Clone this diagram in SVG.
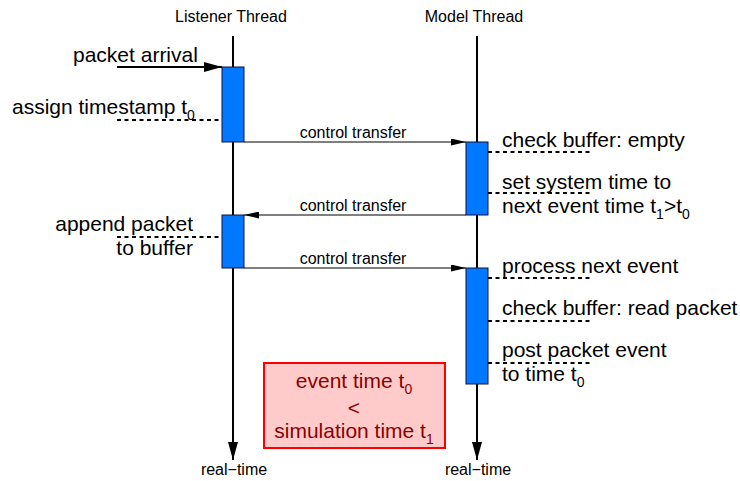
<svg xmlns="http://www.w3.org/2000/svg" width="740" height="481" viewBox="0 0 740 481">
  <defs>
    <style>
      text { font-family: "Liberation Sans", Arial, sans-serif; fill: #000; }
      .big { font-size: 21px; }
      .small { font-size: 16px; }
      .sub { font-size: 14px; }
      .life { stroke: #000; stroke-width: 2; fill: none; }
      .ctrl { stroke: #000; stroke-width: 1.2; fill: none; }
      .dash { stroke: #000; stroke-width: 1.8; stroke-dasharray: 4 3.5; fill: none; }
      .act { fill: #0078ff; stroke: #10103a; stroke-width: 1; }
      .note-box { fill: #ffcaca; stroke: #ff0000; stroke-width: 2; }
      .note { font-size: 21px; fill: #8c0000; }
    </style>
    <marker id="headBig" markerWidth="18" markerHeight="10" refX="18" refY="5" orient="auto" markerUnits="userSpaceOnUse">
      <path d="M0,0 L18,5 L0,10 Z" fill="#000"/>
    </marker>
    <marker id="headSmall" markerWidth="15" markerHeight="7" refX="15" refY="3.5" orient="auto" markerUnits="userSpaceOnUse">
      <path d="M0,0 L15,3.5 L0,7 Z" fill="#000"/>
    </marker>
  </defs>

  <!-- lifelines -->
  <g id="listener-thread">
    <text class="small" x="231" y="22" text-anchor="middle">Listener Thread</text>
    <line class="life" x1="233" y1="36" x2="233" y2="460" marker-end="url(#headBig)"/>
    <text class="small" x="234" y="475" text-anchor="middle">real−time</text>
  </g>
  <g id="model-thread">
    <text class="small" x="474" y="22" text-anchor="middle">Model Thread</text>
    <line class="life" x1="477" y1="36" x2="477" y2="460" marker-end="url(#headBig)"/>
    <text class="small" x="478" y="475" text-anchor="middle">real−time</text>
  </g>

  <!-- external packet arrival -->
  <g id="packet-arrival">
    <line class="life" x1="117" y1="67" x2="222" y2="67" marker-end="url(#headBig)"/>
    <text class="big" x="73" y="62">packet arrival</text>
  </g>

  <!-- control transfers between the threads -->
  <g id="connectors">
    <line class="ctrl" x1="244" y1="142" x2="466" y2="142" marker-end="url(#headSmall)"/>
    <text class="small" x="353" y="138" text-anchor="middle">control transfer</text>
    <line class="ctrl" x1="466" y1="215" x2="244" y2="215" marker-end="url(#headSmall)"/>
    <text class="small" x="353" y="211" text-anchor="middle">control transfer</text>
    <line class="ctrl" x1="244" y1="268" x2="466" y2="268" marker-end="url(#headSmall)"/>
    <text class="small" x="353" y="264" text-anchor="middle">control transfer</text>
  </g>

  <!-- listener activations -->
  <g id="listener-act-1">
    <rect class="act" x="222" y="67" width="22" height="75"/>
    <line class="dash" x1="117" y1="120" x2="222" y2="120"/>
    <text class="big" x="12" y="114">assign timestamp t<tspan class="sub" dy="6">0</tspan></text>
  </g>
  <g id="listener-act-2">
    <rect class="act" x="222" y="215" width="22" height="53"/>
    <line class="dash" x1="117" y1="237" x2="222" y2="237"/>
    <text class="big" x="193" y="231" text-anchor="end">append packet</text>
    <text class="big" x="193" y="255" text-anchor="end">to buffer</text>
  </g>

  <!-- model activations -->
  <g id="model-act-1">
    <rect class="act" x="466" y="142" width="22" height="73"/>
    <line class="dash" x1="488" y1="152" x2="593" y2="152"/>
    <text class="big" x="502" y="147">check buffer: empty</text>
    <line class="dash" x1="488" y1="193" x2="593" y2="193"/>
    <text class="big" x="502" y="189">set system time to</text>
    <text class="big" x="502" y="213">next event time t<tspan class="sub" dy="6">1</tspan><tspan dy="-6">&gt;t</tspan><tspan class="sub" dy="6">0</tspan></text>
  </g>
  <g id="model-act-2">
    <rect class="act" x="466" y="268" width="22" height="116"/>
    <line class="dash" x1="488" y1="278" x2="593" y2="278"/>
    <text class="big" x="502" y="273">process next event</text>
    <line class="dash" x1="488" y1="321" x2="593" y2="321"/>
    <text class="big" x="502" y="315">check buffer: read packet</text>
    <line class="dash" x1="488" y1="363" x2="593" y2="363"/>
    <text class="big" x="502" y="357">post packet event</text>
    <text class="big" x="502" y="381">to time t<tspan class="sub" dy="6">0</tspan></text>
  </g>

  <!-- time ordering note -->
  <g id="time-note">
    <rect class="note-box" x="264" y="363" width="181" height="85"/>
    <text class="note" x="354" y="388" text-anchor="middle">event time t<tspan class="sub" dy="6">0</tspan></text>
    <text class="note" x="354" y="415" text-anchor="middle">&lt;</text>
    <text class="note" x="354" y="438" text-anchor="middle">simulation time t<tspan class="sub" dy="6">1</tspan></text>
  </g>
</svg>
